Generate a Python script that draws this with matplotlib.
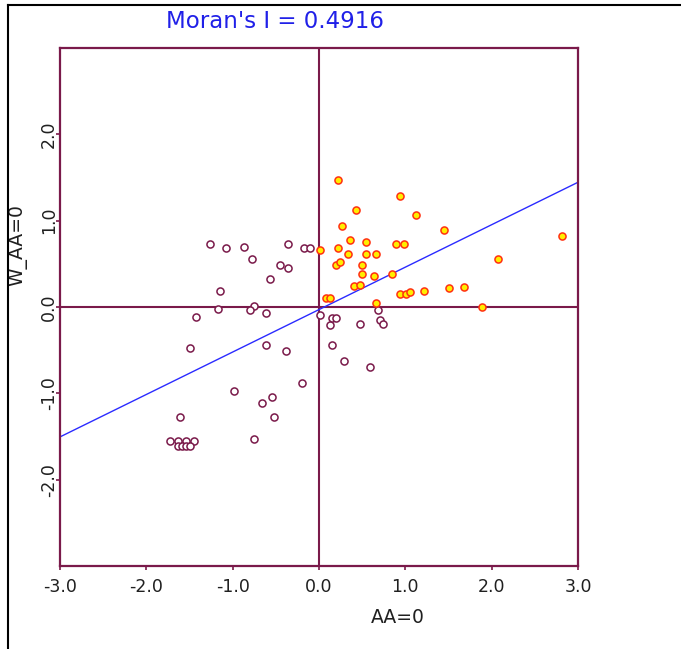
"""
Moran scatter plot for AA=0 against its spatial lag W_AA=0.
"""

import matplotlib

matplotlib.use("Agg")
import matplotlib.pyplot as plt
from matplotlib.lines import Line2D
import numpy as np

moran_i = 0.4916
intercept = -0.03

# high-high / high-low points (filled yellow with red rim)
hot_x = [0.22, 0.94, 0.43, 1.12, 0.27, 1.45, 0.36, 0.55, 0.89, 0.99, 0.01, 0.22,
         0.34, 0.55, 0.66, 0.20, 0.24, 0.50, 0.50, 0.64, 0.85, 0.41, 0.48, 0.94,
         1.01, 1.05, 1.22, 1.50, 1.68, 0.08, 0.13, 0.66, 2.82, 2.07, 1.89]
hot_y = [1.47, 1.29, 1.12, 1.07, 0.94, 0.89, 0.78, 0.75, 0.73, 0.73, 0.66, 0.68,
         0.61, 0.61, 0.61, 0.49, 0.52, 0.49, 0.38, 0.36, 0.38, 0.24, 0.26, 0.15,
         0.15, 0.17, 0.19, 0.22, 0.23, 0.10, 0.10, 0.05, 0.82, 0.56, 0.00]

# remaining points (hollow, purple rim)
cold_x = [-1.26, -1.08, -0.87, -0.78, -0.36, -0.17, -0.10, -0.45, -0.36, -0.57,
          -1.15, -1.17, -0.75, -0.80, -0.61, -1.43, 0.01, 0.13, 0.15, 0.20,
          0.48, 0.68, 0.71, 0.74, -1.49, -0.61, -0.38, 0.15, 0.29, 0.59,
          -0.20, -0.98, -0.55, -0.66, -0.52, -1.61, -0.75,
          -1.73, -1.63, -1.54, -1.45, -1.63, -1.59, -1.54, -1.49]
cold_y = [0.73, 0.68, 0.70, 0.56, 0.73, 0.68, 0.68, 0.49, 0.45, 0.33,
          0.19, -0.02, 0.01, -0.04, -0.07, -0.12, -0.09, -0.21, -0.13, -0.13,
          -0.20, -0.04, -0.15, -0.20, -0.48, -0.44, -0.51, -0.44, -0.62, -0.69,
          -0.88, -0.97, -1.04, -1.11, -1.27, -1.27, -1.53,
          -1.55, -1.55, -1.55, -1.55, -1.61, -1.61, -1.61, -1.61]

ticks = [-3.0, -2.0, -1.0, 0.0, 1.0, 2.0, 3.0]
y_ticks = [-2.0, -1.0, 0.0, 1.0, 2.0]

maroon = "#7a1a4a"
ink = "#202020"

fig = plt.figure(figsize=(6.81, 6.49), dpi=100)
ax = fig.add_axes([60 / 681, 1 - 566 / 649, 518 / 681, 518 / 649])

ax.axhline(0, color=maroon, lw=1.5, zorder=1)
ax.axvline(0, color=maroon, lw=1.5, zorder=1)

xs = np.array([-3.0, 3.0])
ax.plot(xs, intercept + moran_i * xs, color="#2b2bff", lw=1.0, zorder=2)

ax.scatter(cold_x, cold_y, s=26, facecolor="white", edgecolor=maroon,
           linewidth=1.1, zorder=3)
ax.scatter(hot_x, hot_y, s=26, facecolor="#ffee00", edgecolor="#ff3010",
           linewidth=1.1, zorder=4)

ax.set_xlim(-3, 3)
ax.set_ylim(-3, 3)
ax.set_xticks(ticks)
ax.set_xticklabels([f"{t:.1f}" for t in ticks])
ax.set_yticks(y_ticks)
ax.set_yticklabels([f"{t:.1f}" for t in y_ticks], rotation=90, va="center")
ax.tick_params(colors=maroon, labelcolor=ink, length=3, width=1.2,
               labelsize=12.5)
ax.tick_params(axis="x", pad=5.5)
ax.tick_params(axis="y", pad=-1.5)
for side in ax.spines.values():
    side.set_color(maroon)
    side.set_linewidth(1.6)

ax.set_xlabel("AA=0", fontsize=13.5, color=ink)
ax.xaxis.set_label_coords(338 / 518, -42 / 518)
ax.set_ylabel("W_AA=0", fontsize=13.5, color=ink)
ax.yaxis.set_label_coords(-33 / 518, (566 - 245) / 518)

fig.text(275 / 681, 1 - 22 / 649, "Moran's I = 0.4916", color="#2020e8",
         fontsize=16.5, ha="center", va="center")

# window frame on the left and top edges
fig.add_artist(Line2D([8 / 681, 8 / 681], [0, 1 - 5 / 649], color="black", lw=1.5))
fig.add_artist(Line2D([8 / 681, 1], [1 - 5 / 649, 1 - 5 / 649], color="black", lw=1.5))

fig.savefig("out.png", dpi=100)
